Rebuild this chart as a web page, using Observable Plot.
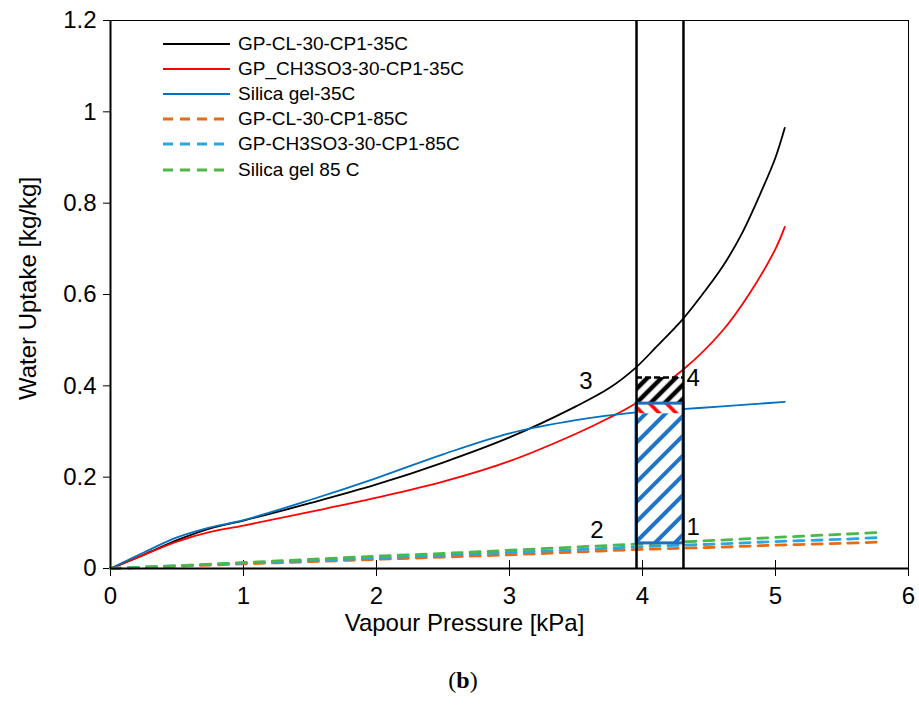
<!DOCTYPE html>
<html><head><meta charset="utf-8">
<script src="https://cdn.jsdelivr.net/npm/d3@7"></script>
<script src="https://cdn.jsdelivr.net/npm/@observablehq/plot@0.6"></script>
<style>
body{margin:0;background:#fff;font-family:"Liberation Sans",Arial,sans-serif}
#wrap{position:relative;width:919px;height:711px;background:#fff}
#legend{position:absolute;left:163px;top:31px;font-size:19px;color:#000}
.row{display:flex;align-items:center;height:25.2px;white-space:nowrap}
.row svg{margin-right:8px;flex:none}
#cap{position:absolute;top:667px;left:0;width:926px;text-align:center;font-family:"Liberation Serif","DejaVu Serif",serif;font-size:24px}
</style></head>
<body>
<svg width="0" height="0" style="position:absolute">
<defs>
<pattern id="hatchBlue" patternUnits="userSpaceOnUse" width="14" height="14" patternTransform="rotate(45)">
<rect width="14" height="14" fill="#fff"/><line x1="7" y1="0" x2="7" y2="14" stroke="#1f74c8" stroke-width="4"/></pattern>
<pattern id="hatchRed" patternUnits="userSpaceOnUse" width="12" height="12" patternTransform="rotate(-45)">
<rect width="12" height="12" fill="#fff"/><line x1="6" y1="0" x2="6" y2="12" stroke="#ff0000" stroke-width="3.5"/></pattern>
<pattern id="hatchBlack" patternUnits="userSpaceOnUse" width="10" height="10" patternTransform="rotate(45)">
<rect width="10" height="10" fill="#fff"/><line x1="5" y1="0" x2="5" y2="10" stroke="#000" stroke-width="4.5"/></pattern>
</defs></svg>
<div id="wrap"><div id="chart"></div><div id="legend"></div><div id="cap">(<b>b</b>)</div></div>
<script>
// ---- data ----
const xTicks = [0, 1, 2, 3, 4, 5, 6];
const yTicks = [0, 0.2, 0.4, 0.6, 0.8, 1, 1.2];
const xTitle = "Vapour Pressure [kPa]";
const yTitle = "Water Uptake [kg/kg]";

const clP35 = [0, 0.25, 0.5, 0.75, 1.0, 1.5, 2.0, 2.5, 3.0, 3.5, 3.75, 3.95, 4.1, 4.3, 4.45, 4.6, 4.75, 4.9, 5.0, 5.07];
const clW35 = [0, 0.03, 0.062, 0.088, 0.105, 0.143, 0.184, 0.232, 0.287, 0.355, 0.395, 0.44, 0.484, 0.545, 0.6, 0.66, 0.735, 0.83, 0.9, 0.965];

const msP35 = [0, 0.25, 0.5, 0.75, 1.0, 1.5, 2.0, 2.5, 3.0, 3.5, 3.75, 3.95, 4.3, 4.6, 4.8, 5.0, 5.07];
const msW35 = [0, 0.03, 0.059, 0.08, 0.094, 0.124, 0.155, 0.19, 0.235, 0.295, 0.33, 0.362, 0.434, 0.52, 0.6, 0.7, 0.748];

const sgP35 = [0, 0.25, 0.5, 0.75, 1.0, 1.5, 2.0, 2.5, 3.0, 3.5, 3.95, 4.3, 4.6, 5.07];
const sgW35 = [0, 0.035, 0.068, 0.09, 0.106, 0.15, 0.198, 0.25, 0.296, 0.325, 0.342, 0.349, 0.355, 0.365];

const P85 = [0, 0.5, 1, 1.5, 2, 2.5, 3, 3.5, 4, 4.5, 5, 5.5, 5.8];
const clW85 = [0, 0.005, 0.01, 0.015, 0.02, 0.025, 0.03, 0.036, 0.042, 0.046, 0.051, 0.055, 0.058];
const msW85 = [0, 0.006, 0.012, 0.017, 0.023, 0.029, 0.035, 0.041, 0.048, 0.053, 0.059, 0.064, 0.068];
const sgW85 = [0, 0.006, 0.013, 0.02, 0.027, 0.033, 0.04, 0.047, 0.054, 0.061, 0.068, 0.075, 0.079];

const seriesNames = ["GP-CL-30-CP1-35C", "GP_CH3SO3-30-CP1-35C", "Silica gel-35C",
  "GP-CL-30-CP1-85C", "GP-CH3SO3-30-CP1-85C", "Silica gel 85 C"];

// cycle: pressure limits and uptake bands
const cycleP = [3.955, 4.308];
const bandLow = [0.055, 0.339, 0.361];
const bandHigh = [0.339, 0.361, 0.418];
const cornerLabels = ["1", "2", "3", "4"];
const cornerP = [4.308, 3.955, 3.955, 4.308];
const cornerW = [0.055, 0.055, 0.418, 0.418];

// ---- styles ----
const colors = ["#000000", "#ff0000", "#0070c0", "#ea6a12", "#2aa6e0", "#4db848"];
const dashed = [false, false, false, true, true, true];
const seriesXY = [[clP35, clW35], [msP35, msW35], [sgP35, sgW35], [P85, clW85], [P85, msW85], [P85, sgW85]];
const hatchIds = ["url(#hatchBlue)", "url(#hatchRed)", "url(#hatchBlack)"];

const rows = [];
seriesXY.forEach(([xs, ys], i) => xs.forEach((x, j) => rows.push({s: i, x, y: ys[j]})));
const bands = bandLow.map((lo, i) => ({lo, hi: bandHigh[i], fill: hatchIds[i]}));
const corners = cornerLabels.map((t, i) => ({t, x: cornerP[i], y: cornerW[i]}));

const lineMarks = seriesXY.map((_, i) =>
  Plot.line(rows.filter(r => r.s === i), {
    x: "x", y: "y", stroke: colors[i], curve: "catmull-rom",
    strokeWidth: dashed[i] ? 2.8 : 1.8,
    strokeDasharray: dashed[i] ? "10,8" : null
  })
);

const labelStyle = [
  {textAnchor: "start", dx: 3, dy: -16},
  {textAnchor: "end", dx: -33, dy: -13},
  {textAnchor: "end", dx: -44, dy: 4},
  {textAnchor: "start", dx: 3, dy: 1}
];

const fmt = d => String(d);

const chart = Plot.plot({
  width: 919, height: 650,
  marginLeft: 110, marginRight: 11, marginTop: 20, marginBottom: 82,
  x: {domain: [0, 6]},
  y: {domain: [0, 1.2]},
  style: {fontFamily: "'Liberation Sans', Arial, sans-serif", fontSize: "24px", color: "#000", background: "#fff", overflow: "visible"},
  marks: [
    Plot.frame({stroke: "#000", strokeWidth: 1}),
    Plot.axisY(yTicks, {tickSize: 7, tickPadding: 7, fontSize: 24, tickFormat: fmt, label: null}),
    Plot.axisX(xTicks, {tickSize: 8, tickPadding: 10, fontSize: 24, tickFormat: fmt, label: null}),
    Plot.tickX(xTicks, {x: d => d, insetTop: 540, stroke: "#000", strokeWidth: 1}),
    Plot.text([xTitle], {frameAnchor: "bottom", text: d => d, dx: -45, dy: 62, fontSize: 24}),
    Plot.text([yTitle], {frameAnchor: "left", text: d => d, textAnchor: "middle", rotate: -90, dx: -82, dy: -6, fontSize: 24}),
    ...lineMarks,
    Plot.rect(bands, {x1: cycleP[0], x2: cycleP[1], y1: "lo", y2: "hi", fill: d => d.fill}),
    Plot.rect([bandLow[0]], {x1: cycleP[0], x2: cycleP[1], y1: bandLow[0], y2: bandHigh[1], fill: "none", stroke: "#1f6fc0", strokeWidth: 3}),
    Plot.ruleY([bandHigh[2]], {x1: cycleP[0], x2: cycleP[1], stroke: "#000", strokeWidth: 2.5, strokeDasharray: "6,3"}),
    Plot.ruleX(cycleP, {stroke: "#000", strokeWidth: 2.5}),
    Plot.ruleY([0], {stroke: "#000", strokeWidth: 2}),
    Plot.ruleX([0], {stroke: "#000", strokeWidth: 2}),
    ...corners.map((c, i) => Plot.text([c], {x: "x", y: "y", text: "t", fontSize: 24, fill: "#000", ...labelStyle[i]}))
  ]
});
document.getElementById("chart").appendChild(chart);

// legend
const leg = document.getElementById("legend");
seriesNames.forEach((name, i) => {
  const row = document.createElement("div");
  row.className = "row";
  const ns = "http://www.w3.org/2000/svg";
  const s = document.createElementNS(ns, "svg");
  s.setAttribute("width", 67); s.setAttribute("height", 10);
  const l = document.createElementNS(ns, "line");
  l.setAttribute("x1", 0); l.setAttribute("x2", 67); l.setAttribute("y1", 5); l.setAttribute("y2", 5);
  l.setAttribute("stroke", colors[i]);
  l.setAttribute("stroke-width", dashed[i] ? 2.8 : 1.8);
  if (dashed[i]) l.setAttribute("stroke-dasharray", "10,7");
  s.appendChild(l);
  row.appendChild(s);
  const sp = document.createElement("span");
  sp.textContent = name;
  row.appendChild(sp);
  leg.appendChild(row);
});
</script>
</body></html>
